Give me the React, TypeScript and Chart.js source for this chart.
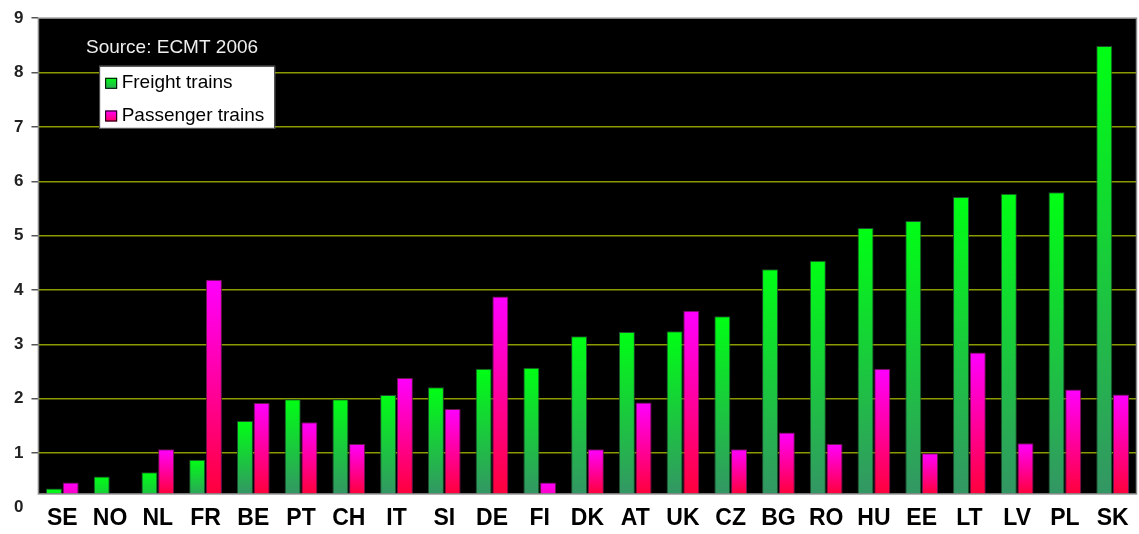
import React, { useEffect, useRef } from 'react';
import { Chart, registerables } from 'chart.js';

Chart.register(...registerables);

const categories = ['SE', 'NO', 'NL', 'FR', 'BE', 'PT', 'CH', 'IT', 'SI', 'DE', 'FI', 'DK', 'AT', 'UK', 'CZ', 'BG', 'RO', 'HU', 'EE', 'LT', 'LV', 'PL', 'SK'];
const freightValues = [0.35, 0.57, 0.65, 0.88, 1.59, 1.99, 1.99, 2.07, 2.21, 2.55, 2.57, 3.15, 3.23, 3.24, 3.52, 4.38, 4.54, 5.14, 5.27, 5.71, 5.77, 5.8, 8.49];
const passengerValues: (number | null)[] = [0.46, null, 1.07, 4.19, 1.92, 1.57, 1.17, 2.38, 1.81, 3.88, 0.46, 1.07, 1.93, 3.62, 1.07, 1.38, 1.17, 2.55, 1.0, 2.85, 1.18, 2.17, 2.08];
const yTickValues = [0, 1, 2, 3, 4, 5, 6, 7, 8, 9];
const seriesLabels = ['Freight trains', 'Passenger trains'];
const sourceNote = 'Source: ECMT 2006';

const BAR_BASE = 0.25;
const FONT = "'Liberation Sans', Arial, sans-serif";

const FREIGHT_TOP = [0, 255, 20];
const FREIGHT_BOTTOM = [51, 150, 100];
const PASS_TOP = [255, 0, 255];
const PASS_BOTTOM = [255, 0, 60];

function mix(a: number[], b: number[], t: number) {
  const c = a.map((v, i) => Math.round(v + (b[i] - v) * t));
  return `rgb(${c[0]},${c[1]},${c[2]})`;
}

function barGradient(top: number[], bottom: number[]) {
  return (ctx: any) => {
    const chart = ctx.chart;
    const y = chart.scales && chart.scales.y;
    if (!chart.chartArea || !y || ctx.type !== 'data' || ctx.raw == null) return mix(top, top, 0);
    const yTop = y.getPixelForValue(ctx.raw);
    const yBot = y.getPixelForValue(BAR_BASE);
    const h = Math.max(1, yBot - yTop);
    const t = Math.min(1, h / 40);
    const g = chart.ctx.createLinearGradient(0, yTop, 0, yBot);
    g.addColorStop(0, mix(top, top, 0));
    g.addColorStop(1, mix(top, bottom, t));
    return g;
  };
}

const framePlugin = {
  id: 'frame',
  beforeDraw(chart: any) {
    const { ctx, chartArea, scales } = chart;
    ctx.save();
    ctx.fillStyle = '#ffffff';
    ctx.fillRect(0, 0, chart.width, chart.height);
    const yb = scales.y.getPixelForValue(BAR_BASE);
    ctx.fillStyle = '#000000';
    ctx.fillRect(chartArea.left, chartArea.top, chartArea.right - chartArea.left, yb - chartArea.top);
    ctx.restore();
  },
  afterDraw(chart: any) {
    const { ctx, chartArea, scales } = chart;
    const yb = scales.y.getPixelForValue(BAR_BASE);
    const L = chartArea.left;
    const T = chartArea.top;
    ctx.save();
    // plot border
    ctx.strokeStyle = '#8a8a8a';
    ctx.lineWidth = 1.5;
    ctx.strokeRect(L, T, chartArea.right - L, yb - T);

    // source note
    ctx.fillStyle = '#eeeeee';
    ctx.font = `19px ${FONT}`;
    ctx.textBaseline = 'alphabetic';
    ctx.textAlign = 'left';
    ctx.fillText(sourceNote, L + 47.5, T + 34.3);

    // legend box
    const bx = L + 60.7;
    const by = T + 47.6;
    ctx.fillStyle = '#ffffff';
    ctx.fillRect(bx, by, 176, 63);
    ctx.strokeStyle = '#333333';
    ctx.lineWidth = 1;
    ctx.strokeRect(bx + 0.5, by + 0.5, 175, 62);

    const items = [
      { label: seriesLabels[0], top: FREIGHT_TOP, bottom: FREIGHT_BOTTOM, dy: 12, base: 21.7 },
      { label: seriesLabels[1], top: PASS_TOP, bottom: PASS_BOTTOM, dy: 44.7, base: 55 },
    ];
    items.forEach((it) => {
      const mx = bx + 6;
      const my = by + it.dy;
      const g = ctx.createLinearGradient(0, my, 0, my + 11);
      g.addColorStop(0, mix(it.top, it.top, 0));
      g.addColorStop(1, mix(it.top, it.bottom, 0.8));
      ctx.fillStyle = g;
      ctx.fillRect(mx, my, 12, 11);
      ctx.strokeStyle = '#000000';
      ctx.strokeRect(mx + 0.5, my + 0.5, 11, 10);
      ctx.fillStyle = '#000000';
      ctx.font = `19px ${FONT}`;
      ctx.fillText(it.label, bx + 22.5, by + it.base);
    });
    ctx.restore();
  },
};

export default function App() {
  const canvasRef = useRef<HTMLCanvasElement | null>(null);

  useEffect(() => {
    document.body.style.margin = '0';
    const canvas = canvasRef.current;
    if (!canvas) return;
    const chart = new Chart(canvas, {
      type: 'bar',
      data: {
        labels: categories,
        datasets: [
          {
            label: seriesLabels[0],
            data: freightValues,
            base: BAR_BASE,
            backgroundColor: barGradient(FREIGHT_TOP, FREIGHT_BOTTOM),
            borderColor: '#1c4d2a',
            borderWidth: 1,
            borderSkipped: 'bottom',
            categoryPercentage: 0.7,
            barPercentage: 0.96,
          } as any,
          {
            label: seriesLabels[1],
            data: passengerValues,
            base: BAR_BASE,
            backgroundColor: barGradient(PASS_TOP, PASS_BOTTOM),
            borderColor: '#6a1650',
            borderWidth: 1,
            borderSkipped: 'bottom',
            categoryPercentage: 0.7,
            barPercentage: 0.96,
          } as any,
        ],
      },
      options: {
        responsive: true,
        maintainAspectRatio: false,
        animation: false,
        layout: { padding: { left: 6, top: 17, right: 2.5, bottom: 3.5 } },
        plugins: {
          legend: { display: false },
          tooltip: { enabled: false },
          title: { display: false },
        },
        scales: {
          x: {
            grid: { display: false, drawTicks: false },
            border: { display: false },
            ticks: {
              color: '#000000',
              font: { family: FONT, size: 23, weight: 'bold', lineHeight: 1 },
              padding: 0,
              maxRotation: 0,
              autoSkip: false,
            },
          },
          y: {
            min: 0,
            max: 9,
            afterBuildTicks: (scale: any) => {
              scale.ticks = yTickValues.map((v) => ({ value: v }));
            },
            border: { display: false },
            grid: {
              color: (c: any) => (c.tick && c.tick.value > 0 && c.tick.value < 9 ? '#8a9a00' : 'rgba(0,0,0,0)'),
              tickColor: (c: any) => (c.tick && c.tick.value > 0 ? '#555555' : 'rgba(0,0,0,0)'),
              lineWidth: 1.5,
              tickLength: 7,
              drawTicks: true,
            },
            ticks: {
              color: '#222222',
              font: { family: FONT, size: 17, weight: 'bold' },
              padding: 8,
              callback: (v: any) => String(v),
            },
          },
        },
      },
      plugins: [framePlugin],
    });
    return () => chart.destroy();
  }, []);

  return (
    <div style={{ width: 1139, height: 534, position: 'relative', overflow: 'hidden' }}>
      <canvas ref={canvasRef} />
    </div>
  );
}
